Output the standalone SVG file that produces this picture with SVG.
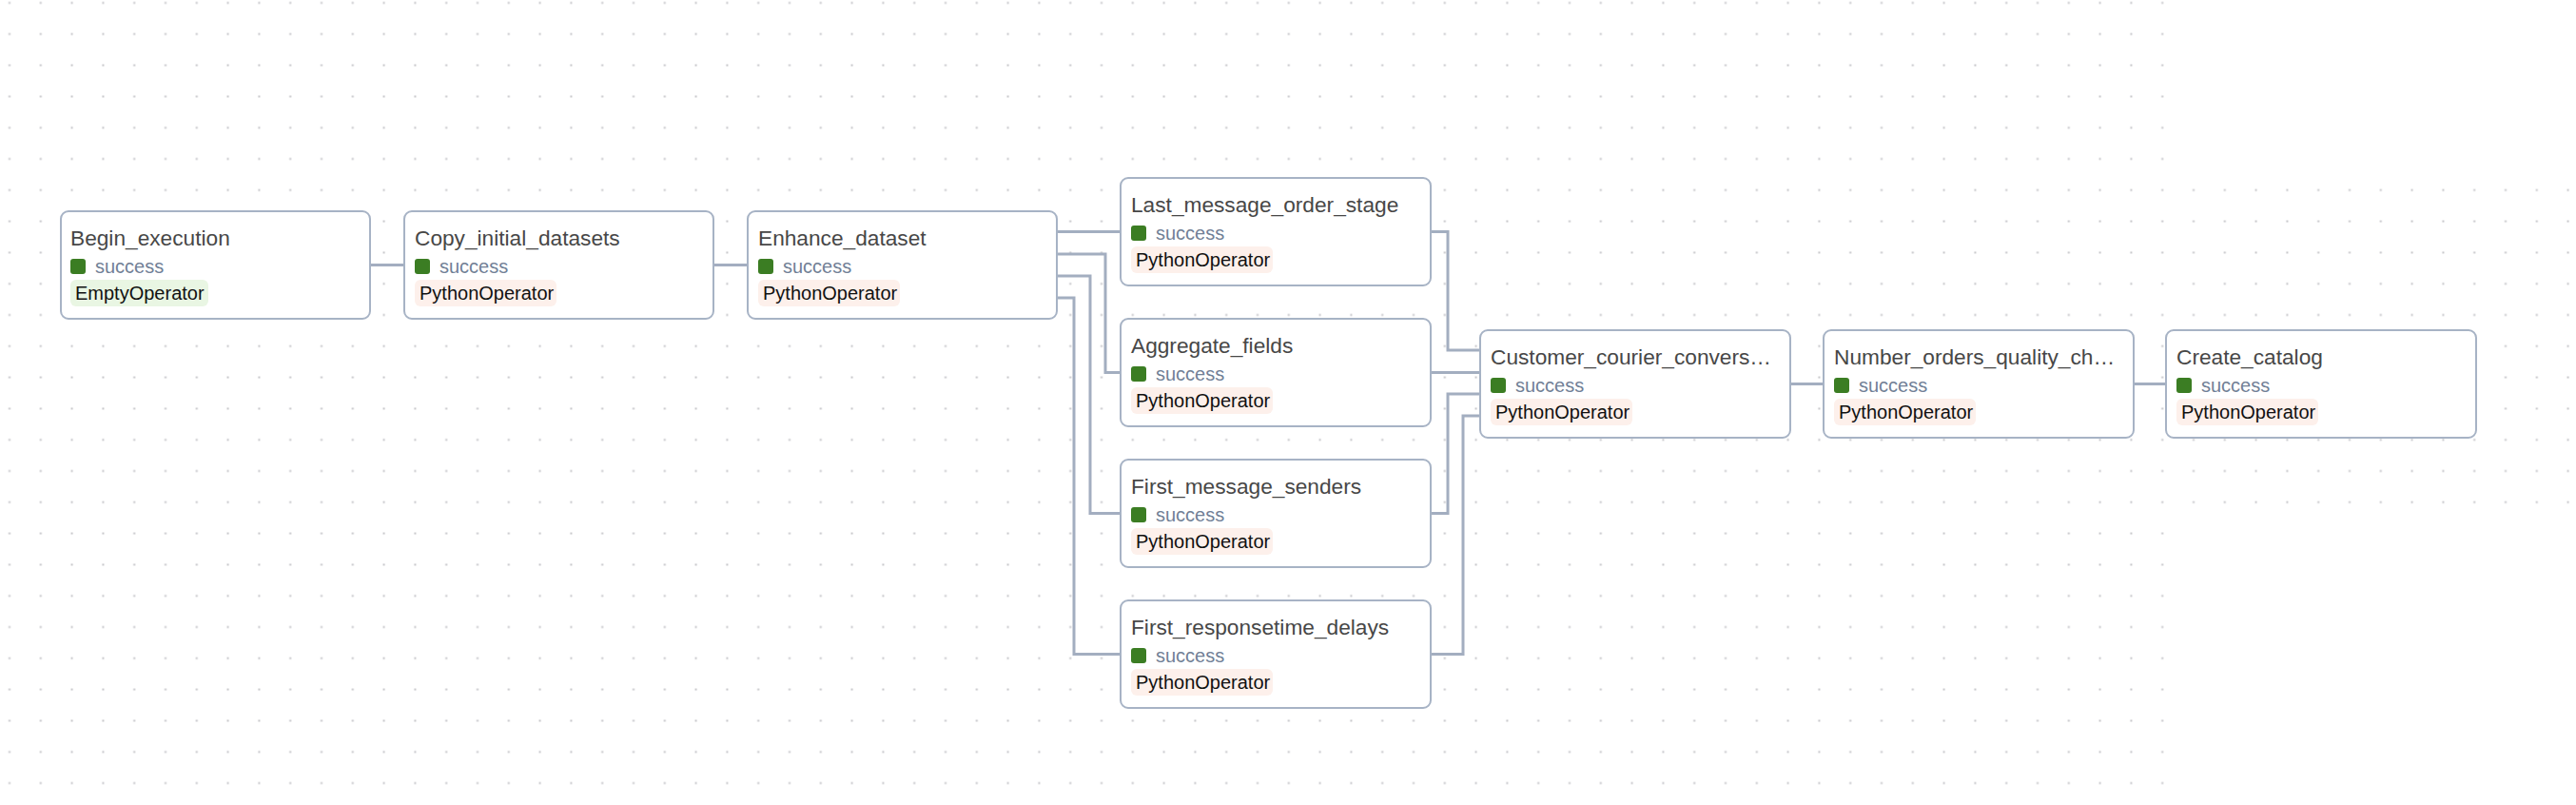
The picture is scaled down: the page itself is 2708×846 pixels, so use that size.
<svg xmlns="http://www.w3.org/2000/svg" width="2708" height="846" viewBox="0 0 2708 846">
  <defs>
    <pattern id="dots" patternUnits="userSpaceOnUse" x="-6.4" y="-13.4" width="32.8" height="32.8">
      <rect x="15.4" y="15.4" width="2" height="2" fill="#c4c4c8"/>
    </pattern>
  </defs>
  <style>
    .node rect.box { fill: #ffffff; stroke: #a7b3c5; stroke-width: 2; }
    .title { font-family: "Liberation Sans", Arial, Helvetica, sans-serif; font-size: 22.7px; fill: #474747; }
    .state { font-family: "Liberation Sans", Arial, Helvetica, sans-serif; font-size: 20px; fill: #718096; }
    .op { font-family: "Liberation Sans", Arial, Helvetica, sans-serif; font-size: 20px; fill: #111111; }
    .sq { fill: #3b7d23; }
    .py { fill: #fdf0eb; }
    .em { fill: #e9f6e3; }
    #edges path { fill: none; stroke: #a3aec0; stroke-width: 3; stroke-linejoin: miter; }
  </style>
  <rect x="0" y="0" width="2708" height="846" fill="#ffffff"/>
  <rect x="0" y="0" width="2708" height="846" fill="url(#dots)"/>
  <rect x="2290" y="0" width="418" height="185" fill="#ffffff"/>
  <rect x="2290" y="530" width="418" height="316" fill="#ffffff"/>

  <g id="edges">
    <path d="M389 278.5 H425"/>
    <path d="M750 278.5 H786"/>
    <path d="M1111 243.5 H1178"/>
    <path d="M1111 267 H1162 V391.5 H1178"/>
    <path d="M1111 290 H1146 V539.5 H1178"/>
    <path d="M1111 313 H1129 V687.5 H1178"/>
    <path d="M1504 243.5 H1522 V368 H1556"/>
    <path d="M1504 391.5 H1556"/>
    <path d="M1504 539.5 H1522 V414 H1556"/>
    <path d="M1504 687.5 H1538 V437 H1556"/>
    <path d="M1882 403.5 H1917"/>
    <path d="M2243 403.5 H2277"/>
  </g>

  <g id="Begin_execution" class="node" transform="translate(64,222)">
    <rect class="box" x="0" y="0" width="325" height="113" rx="8"/>
    <text class="title" x="10" y="36">Begin_execution</text>
    <rect class="sq" x="10" y="50" width="16" height="16" rx="3"/>
    <text class="state" x="36" y="65">success</text>
    <rect class="em" x="10" y="72" width="145" height="28" rx="6"/>
    <text class="op" x="15" y="93">EmptyOperator</text>
  </g>

  <g id="Copy_initial_datasets" class="node" transform="translate(425,222)">
    <rect class="box" x="0" y="0" width="325" height="113" rx="8"/>
    <text class="title" x="11" y="36">Copy_initial_datasets</text>
    <rect class="sq" x="11" y="50" width="16" height="16" rx="3"/>
    <text class="state" x="37" y="65">success</text>
    <rect class="py" x="11" y="72" width="149" height="28" rx="6"/>
    <text class="op" x="16" y="93">PythonOperator</text>
  </g>

  <g id="Enhance_dataset" class="node" transform="translate(786,222)">
    <rect class="box" x="0" y="0" width="325" height="113" rx="8"/>
    <text class="title" x="11" y="36">Enhance_dataset</text>
    <rect class="sq" x="11" y="50" width="16" height="16" rx="3"/>
    <text class="state" x="37" y="65">success</text>
    <rect class="py" x="11" y="72" width="149" height="28" rx="6"/>
    <text class="op" x="16" y="93">PythonOperator</text>
  </g>

  <g id="Last_message_order_stage" class="node" transform="translate(1178,187)">
    <rect class="box" x="0" y="0" width="326" height="113" rx="8"/>
    <text class="title" x="11" y="36">Last_message_order_stage</text>
    <rect class="sq" x="11" y="50" width="16" height="16" rx="3"/>
    <text class="state" x="37" y="65">success</text>
    <rect class="py" x="11" y="72" width="149" height="28" rx="6"/>
    <text class="op" x="16" y="93">PythonOperator</text>
  </g>

  <g id="Aggregate_fields" class="node" transform="translate(1178,335)">
    <rect class="box" x="0" y="0" width="326" height="113" rx="8"/>
    <text class="title" x="11" y="36">Aggregate_fields</text>
    <rect class="sq" x="11" y="50" width="16" height="16" rx="3"/>
    <text class="state" x="37" y="65">success</text>
    <rect class="py" x="11" y="72" width="149" height="28" rx="6"/>
    <text class="op" x="16" y="93">PythonOperator</text>
  </g>

  <g id="First_message_senders" class="node" transform="translate(1178,483)">
    <rect class="box" x="0" y="0" width="326" height="113" rx="8"/>
    <text class="title" x="11" y="36">First_message_senders</text>
    <rect class="sq" x="11" y="50" width="16" height="16" rx="3"/>
    <text class="state" x="37" y="65">success</text>
    <rect class="py" x="11" y="72" width="149" height="28" rx="6"/>
    <text class="op" x="16" y="93">PythonOperator</text>
  </g>

  <g id="First_responsetime_delays" class="node" transform="translate(1178,631)">
    <rect class="box" x="0" y="0" width="326" height="113" rx="8"/>
    <text class="title" x="11" y="36">First_responsetime_delays</text>
    <rect class="sq" x="11" y="50" width="16" height="16" rx="3"/>
    <text class="state" x="37" y="65">success</text>
    <rect class="py" x="11" y="72" width="149" height="28" rx="6"/>
    <text class="op" x="16" y="93">PythonOperator</text>
  </g>

  <g id="Customer_courier_conversations" class="node" transform="translate(1556,347)">
    <rect class="box" x="0" y="0" width="326" height="113" rx="8"/>
    <text class="title" x="11" y="36">Customer_courier_convers…</text>
    <rect class="sq" x="11" y="50" width="16" height="16" rx="3"/>
    <text class="state" x="37" y="65">success</text>
    <rect class="py" x="11" y="72" width="149" height="28" rx="6"/>
    <text class="op" x="16" y="93">PythonOperator</text>
  </g>

  <g id="Number_orders_quality_check" class="node" transform="translate(1917,347)">
    <rect class="box" x="0" y="0" width="326" height="113" rx="8"/>
    <text class="title" x="11" y="36">Number_orders_quality_ch…</text>
    <rect class="sq" x="11" y="50" width="16" height="16" rx="3"/>
    <text class="state" x="37" y="65">success</text>
    <rect class="py" x="11" y="72" width="149" height="28" rx="6"/>
    <text class="op" x="16" y="93">PythonOperator</text>
  </g>

  <g id="Create_catalog" class="node" transform="translate(2277,347)">
    <rect class="box" x="0" y="0" width="326" height="113" rx="8"/>
    <text class="title" x="11" y="36">Create_catalog</text>
    <rect class="sq" x="11" y="50" width="16" height="16" rx="3"/>
    <text class="state" x="37" y="65">success</text>
    <rect class="py" x="11" y="72" width="149" height="28" rx="6"/>
    <text class="op" x="16" y="93">PythonOperator</text>
  </g>
</svg>
